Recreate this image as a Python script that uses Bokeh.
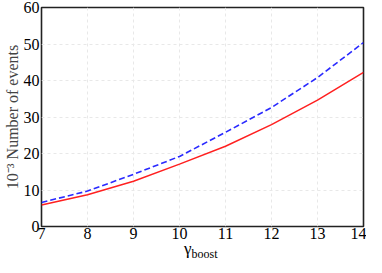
from bokeh.plotting import figure
from bokeh.models import Range1d, FixedTicker, Div
from bokeh.layouts import column
from bokeh.embed import file_html
from bokeh.resources import INLINE

gamma = [7, 8, 9, 10, 11, 12, 13, 14]
red_events = [5.9, 8.7, 12.4, 17.1, 22.0, 27.9, 34.6, 42.2]
blue_events = [6.6, 9.7, 14.3, 19.2, 25.8, 32.6, 40.8, 50.4]
x_ticks = [7, 8, 9, 10, 11, 12, 13, 14]
y_ticks = [0, 10, 20, 30, 40, 50, 60]

FONT = "Liberation Serif"

p = figure(width=366, height=244, output_backend="svg", toolbar_location=None,
           x_range=Range1d(7, 14), y_range=Range1d(0, 60),
           min_border_left=34, min_border_right=3, min_border_top=7, min_border_bottom=18)

p.line(gamma, blue_events, line_color="#2a2aff", line_width=1.6, line_dash="6 3")
p.line(gamma, red_events, line_color="#ff2020", line_width=1.5)

p.xaxis.ticker = FixedTicker(ticks=x_ticks)
p.yaxis.ticker = FixedTicker(ticks=y_ticks)
for ax in (p.xaxis, p.yaxis):
    ax.major_label_text_font = FONT
    ax.major_label_text_font_size = "16px"
    ax.major_label_text_color = "black"
    ax.major_tick_out = 0
    ax.major_tick_in = 0
    ax.minor_tick_out = 0
    ax.minor_tick_in = 0
    ax.axis_line_color = None
p.xaxis.major_label_standoff = 1
p.yaxis.major_label_standoff = 2

p.yaxis.axis_label = "10\u207b\u00b3 Number of events"
p.yaxis.axis_label_text_font = FONT
p.yaxis.axis_label_text_font_size = "16px"
p.yaxis.axis_label_text_font_style = "normal"
p.yaxis.axis_label_standoff = 0

p.grid.grid_line_color = "#e8e8e8"
p.grid.grid_line_dash = "3 3"
p.grid.grid_line_width = 1

p.outline_line_color = "#222222"
p.outline_line_width = 1.6
p.outline_line_alpha = 1

xlabel = Div(
    text=("<div style=\"font-family:'Liberation Serif';font-size:17px;line-height:13px;"
          "color:black;white-space:nowrap;padding-left:184px;transform:translateY(-2px);\">"
          "\u03b3<sub style=\"font-size:12px;vertical-align:-4px;\">boost</sub></div>"),
    width=366, height=13, margin=0,
)

layout = column(p, xlabel, spacing=0)

open("out.html", "w").write(file_html(layout, INLINE))
